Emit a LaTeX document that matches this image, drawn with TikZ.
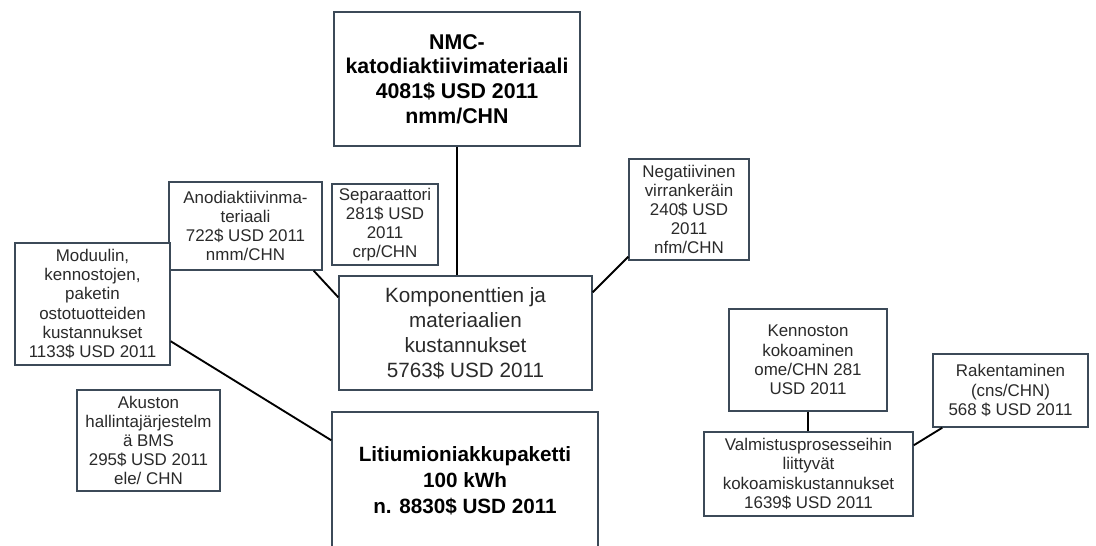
\documentclass[tikz,border=0pt]{standalone}
\usepackage{fontspec}
\setmainfont{Liberation Sans}
\usetikzlibrary{calc}
\definecolor{boxline}{HTML}{3C4A58}
\definecolor{txt}{HTML}{2A2A2A}
\tikzset{
  box/.style={draw=boxline, line width=1.1pt, fill=white, align=center,
    inner sep=0pt, text=txt},
  small/.style={box, font=\fontsize{12.7pt}{14.4pt}\selectfont},
  mid/.style={box, font=\fontsize{15.5pt}{18.8pt}\selectfont},
  big/.style={box, text=black, font=\fontsize{16pt}{18.5pt}\selectfont\bfseries},
  link/.style={draw=black, line width=1.4pt}
}
\begin{document}
\begin{tikzpicture}[x=0.75pt, y=-0.75pt]
\clip (0,0) rectangle (1096,546);
\fill[white] (0,0) rectangle (1096,546);

% cost items, each box placed by its centre and size
\node[big, minimum width=246*0.75pt, minimum height=134*0.75pt] (nmc) at (457,79)
  {NMC-\\katodiaktiivimateriaali\\4081\$ USD 2011\\nmm/CHN};
\node[small, minimum width=153*0.75pt, minimum height=88*0.75pt] (anodi) at (245.5,226)
  {Anodiaktiivinma-\\teriaali\\722\$ USD 2011\\nmm/CHN};
\node[small, minimum width=106*0.75pt, minimum height=81*0.75pt] (sep) at (385,224.5)
  {Separaattori\\281\$ USD\\2011\\crp/CHN};
\node[small, minimum width=120*0.75pt, minimum height=101*0.75pt] (neg) at (689,209.5)
  {Negatiivinen\\virrankeräin\\240\$ USD\\2011\\nfm/CHN};
\node[small, minimum width=155*0.75pt, minimum height=122*0.75pt] (modu) at (92.5,304)
  {Moduulin,\\kennostojen,\\paketin\\ostotuotteiden\\kustannukset\\1133\$ USD 2011};
\node[mid, minimum width=253*0.75pt, minimum height=114*0.75pt] (komp) at (465.5,333)
  {Komponenttien ja\\materiaalien\\kustannukset\\5763\$ USD 2011};
\node[small, minimum width=143*0.75pt, minimum height=101*0.75pt] (akku) at (148.5,440.5)
  {Akuston\\hallintajärjestelm\\ä BMS\\295\$ USD 2011\\ele/ CHN};
\node[big, minimum width=266*0.75pt, minimum height=138*0.75pt,
  font=\fontsize{15.5pt}{19.5pt}\selectfont\bfseries] (main) at (465,481)
  {Litiumioniakkupaketti\\100 kWh\\n. 8830\$ USD 2011};
\node[small, minimum width=158*0.75pt, minimum height=102*0.75pt] (kenn) at (808,360)
  {Kennoston\\kokoaminen\\ome/CHN 281\\USD 2011};
\node[small, minimum width=209*0.75pt, minimum height=84*0.75pt] (valm) at (808.5,474)
  {Valmistusprosesseihin\\liittyvät\\kokoamiskustannukset\\1639\$ USD 2011};
\node[small, minimum width=155*0.75pt, minimum height=73*0.75pt] (rak) at (1010.5,390.5)
  {Rakentaminen\\(cns/CHN)\\568 \$ USD 2011};

% connectors
\draw[link] (nmc.south) -- (nmc.south |- komp.north);
\draw[link] ($(anodi.south east)+(-9,0)$) -- ($(komp.north west)+(0,22)$);
\draw[link] ($(sep.south)+(-8,0)$) -- ($(sep.south)+(-8,0)$ |- komp.north);
\draw[link] ($(neg.south west)+(0,-4)$) -- ($(komp.north east)+(0,17)$);
\draw[link] ($(modu.north east)+(0,99)$) -- ($(main.north west)+(0,29)$);
\draw[link] ($(akku.east)+(0,27.5)$) -- ($(akku.east)+(0,27.5)$ -| main.west);
\draw[link] ($(komp.south)+(-8,0)$) -- ($(komp.south)+(-8,0)$ |- main.north);
\draw[link] ($(valm.west)+(0,20)$) -- ($(valm.west)+(0,20)$ -| main.east);
\draw[link] (kenn.south) -- (kenn.south |- valm.north);
\draw[link] ($(valm.north east)+(0,14)$) -- ($(rak.south west)+(10,0)$);
\end{tikzpicture}
\end{document}
